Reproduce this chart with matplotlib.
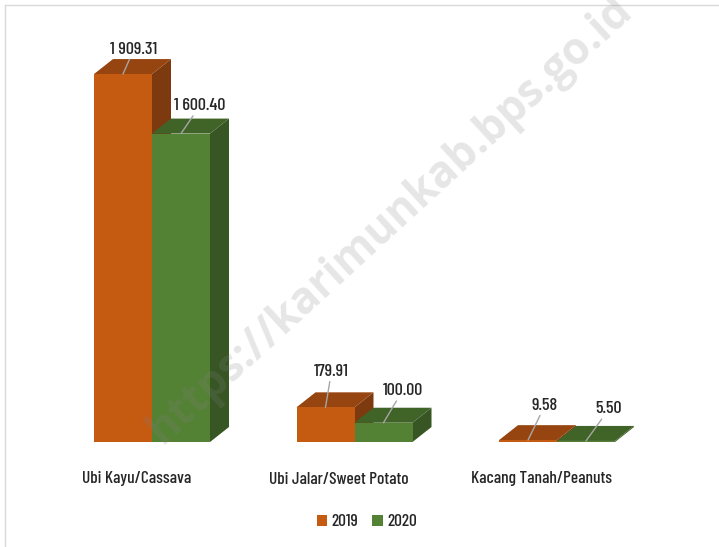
import matplotlib.pyplot as plt
from matplotlib.patches import Polygon, Rectangle, Patch
from matplotlib.lines import Line2D

# data
categories = ['Ubi Kayu/Cassava', 'Ubi Jalar/Sweet Potato', 'Kacang Tanah/Peanuts']
years = ['2019', '2020']
val_2019 = [1909.31, 179.91, 9.58]
val_2020 = [1600.40, 100.00, 5.50]
lbl_2019 = ['1 909.31', '179.91', '9.58']
lbl_2020 = ['1 600.40', '100.00', '5.50']

# colours: front, top, side
col_2019 = ('#c55a11', '#974510', '#7c3a0e')
col_2020 = ('#548235', '#406328', '#375623')

# label offsets (pixels) from the front-top centre of each bar
off_2019 = [(11, 25), (6, 36), (17, 35)]
off_2020 = [(19, 28), (19, 32), (23, 32)]

FONT = ['Barlow Condensed', 'DejaVu Sans']
plt.rcParams['font.family'] = FONT
plt.rcParams['font.weight'] = 500

W, H = 719, 547
fig = plt.figure(figsize=(W / 100, H / 100), dpi=100)
ax = fig.add_axes([0, 105 / H, 1, 402 / H])
ax.set_xlim(-152 / 202.5, (W - 152) / 202.5)
ax.set_ylim(0, 2086)
ax.axis('off')

# depth of the fake 3d in pixels -> data units
px_x = 202.5
px_y = 402 / 2086
dx = 19 / px_x
dy = 15 / px_y
bw = 58 / px_x


def bar3d(x0, h, cols, z):
    front, top, side = cols
    ax.add_patch(Polygon([(x0 + bw, 0), (x0 + bw + dx, dy), (x0 + bw + dx, h + dy), (x0 + bw, h)],
                         closed=True, fc=side, ec='none', zorder=z))
    ax.add_patch(Polygon([(x0, h), (x0 + bw, h), (x0 + bw + dx, h + dy), (x0 + dx, h + dy)],
                         closed=True, fc=top, ec='none', zorder=z))
    ax.add_patch(Rectangle((x0, 0), bw, h, fc=front, ec='none', zorder=z))


def label(x, h, text, off):
    ax.annotate(text, xy=(x, h), xytext=off, textcoords='offset pixels',
                ha='center', va='center', fontsize=13, color='#262626',
                arrowprops=dict(arrowstyle='-', color='#a6a6a6', lw=1,
                                shrinkA=0, shrinkB=0), zorder=10)


for i in range(len(categories)):
    bar3d(i - bw, val_2019[i], col_2019, 2 + i * 2)
    bar3d(i, val_2020[i], col_2020, 3 + i * 2)
    label(i - bw / 2, val_2019[i], lbl_2019[i], off_2019[i])
    label(i + bw / 2, val_2020[i], lbl_2020[i], off_2020[i])

# category labels on the floor, a little left of the bar pairs
for i, c in enumerate(categories):
    ax.text(i - 0.077, -37 / px_y, c, ha='center', va='center',
            fontsize=12.5, color='#262626')

handles = [Patch(fc=col_2019[0]), Patch(fc=col_2020[0])]
fig.legend(handles, years, loc='center', bbox_to_anchor=(367 / W, 1 - 522 / H),
           ncol=2, frameon=False, fontsize=12.5, handlelength=0.63, handleheight=0.63,
           columnspacing=0.8, handletextpad=0.25, labelcolor='#262626')

# watermark, semi-transparent over the bars
fig.text(390 / W, 1 - 220 / H, 'https://karimunkab.bps.go.id', rotation=42.5,
         ha='center', va='center', fontsize=31.5, fontweight='bold',
         color='#808080', alpha=0.2, family=['Open Sans', 'DejaVu Sans'], zorder=20)

# chart frame
fig.add_artist(Line2D([5 / W, 5 / W], [0, 1 - 5 / H], color='#d9d9d9', lw=1))
fig.add_artist(Line2D([5 / W, 1], [1 - 5 / H, 1 - 5 / H], color='#d9d9d9', lw=1))

fig.savefig('out.png', dpi=100)
